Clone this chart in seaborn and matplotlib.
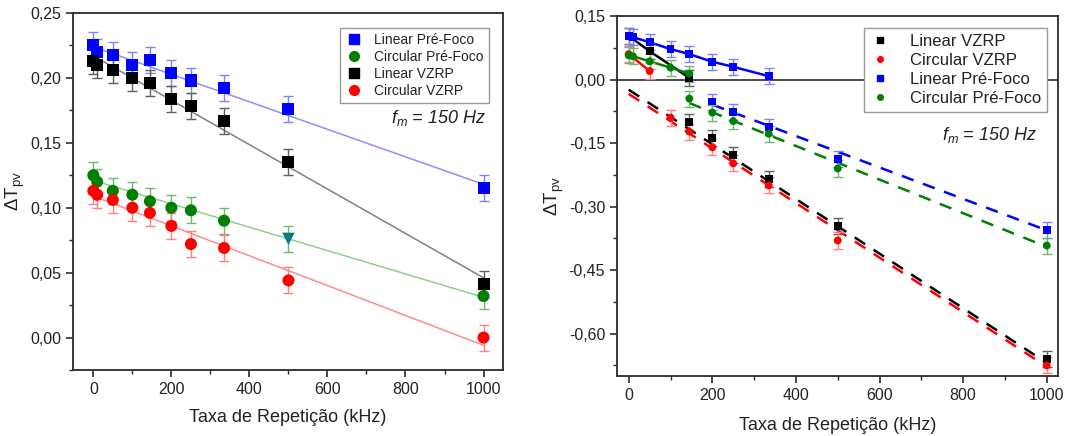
import numpy as np
import pandas as pd
import matplotlib
matplotlib.use("Agg")
import matplotlib.pyplot as plt
from matplotlib.lines import Line2D
from matplotlib.ticker import MultipleLocator, FuncFormatter
import seaborn as sns

# ---------------- data: left panel ----------------
L_x = [0, 10, 50, 100, 145, 200, 250, 335, 500, 1000]
L_lin_pre = [0.225, 0.220, 0.218, 0.210, 0.214, 0.204, 0.198, 0.192, 0.176, 0.115]
L_lin_vzrp = [0.213, 0.210, 0.206, 0.200, 0.196, 0.184, 0.178, 0.167, 0.135, 0.041]
L_circ_pre = [0.125, 0.120, 0.113, 0.110, 0.105, 0.100, 0.098, 0.090, 0.076, 0.032]
L_circ_vzrp = [0.113, 0.110, 0.106, 0.100, 0.096, 0.086, 0.072, 0.069, 0.044, 0.000]
L_err = 0.010
# fitted lines (intercept, slope)
L_fit_lin_pre = (0.224, -0.000106)
L_fit_lin_vzrp = (0.217, -0.000171)
L_fit_circ_pre = (0.121, -0.000090)
L_fit_circ_vzrp = (0.109, -0.000115)

# ---------------- data: right panel ----------------
R_lin_vzrp_pos_x = [0, 50, 145]
R_lin_vzrp_pos = [0.103, 0.067, 0.004]
R_lin_vzrp_neg_x = [145, 200, 250, 335, 500, 1000]
R_lin_vzrp_neg = [-0.100, -0.138, -0.178, -0.235, -0.345, -0.660]

R_circ_vzrp_pos_x = [0, 50]
R_circ_vzrp_pos = [0.060, 0.020]
R_circ_vzrp_neg_x = [100, 145, 200, 250, 335, 500, 1000]
R_circ_vzrp_neg = [-0.090, -0.123, -0.160, -0.198, -0.250, -0.380, -0.675]

R_lin_pre_pos_x = [0, 10, 50, 100, 145, 200, 250, 335]
R_lin_pre_pos = [0.102, 0.100, 0.088, 0.072, 0.060, 0.042, 0.030, 0.008]
R_lin_pre_neg_x = [200, 250, 335, 500, 1000]
R_lin_pre_neg = [-0.052, -0.076, -0.112, -0.187, -0.355]

R_circ_pre_pos_x = [0, 10, 50, 100, 145]
R_circ_pre_pos = [0.057, 0.055, 0.043, 0.028, 0.014]
R_circ_pre_neg_x = [145, 200, 250, 335, 500, 1000]
R_circ_pre_neg = [-0.045, -0.078, -0.098, -0.128, -0.210, -0.392]
R_err = 0.019
# dashed fits (intercept, slope, x start, x end)
R_fit_lin_vzrp = (-0.024, -0.000645, 0, 1000)
R_fit_circ_vzrp = (-0.034, -0.000644, 0, 1000)
R_fit_lin_pre = (0.015, -0.000371, 200, 1000)
R_fit_circ_pre = (0.002, -0.000397, 145, 1000)

# ---------------- style ----------------
sns.set_theme(style="ticks")
plt.rcParams['font.family'] = ['Liberation Sans', 'DejaVu Sans']
plt.rcParams['mathtext.fontset'] = 'custom'
plt.rcParams['mathtext.rm'] = 'Liberation Sans'
plt.rcParams['mathtext.it'] = 'Liberation Sans:italic'

BLUE, GREEN, BLACK, RED = '#0000ff', '#008000', '#000000', '#ff0000'
EB = {BLUE: '#8080ff', GREEN: '#70b870', BLACK: '#606060', RED: '#ff8080'}
FIT = {BLUE: '#8c8cff', GREEN: '#8fd08f', BLACK: '#808080', RED: '#ff8c8c'}

fig = plt.figure(figsize=(10.66, 4.36), dpi=100)
axL = fig.add_axes([0.0685, 0.1514, 0.4034, 0.8188])
axR = fig.add_axes([0.5788, 0.1376, 0.4137, 0.8257])

comma = FuncFormatter(lambda v, p: f"{v:.2f}".replace('.', ','))


def style_axes(ax):
    for s in ax.spines.values():
        s.set_linewidth(1.3)
        s.set_color('#2a2a2a')
    ax.tick_params(which='both', direction='out', top=False, right=False,
                   colors='#2a2a2a', labelsize=11.5, labelcolor='#222222')
    ax.tick_params(which='major', length=5, width=1.2)
    ax.tick_params(which='minor', length=3, width=1.0)
    ax.yaxis.set_major_formatter(comma)
    ax.set_xlabel('Taxa de Repetição (kHz)', fontsize=13, color='#222222')
    ax.set_ylabel(r'ΔT$_\mathregular{pv}$', fontsize=13.5, color='#222222')


# ---------------- left panel ----------------
xs = np.array([0, 1000])
series_L = [
    ('Linear Pré-Foco', L_lin_pre, BLUE, 's', L_fit_lin_pre),
    ('Linear VZRP', L_lin_vzrp, BLACK, 's', L_fit_lin_vzrp),
    ('Circular Pré-Foco', L_circ_pre, GREEN, 'o', L_fit_circ_pre),
    ('Circular VZRP', L_circ_vzrp, RED, 'o', L_fit_circ_vzrp),
]
for name, vals, col, mk, (b, m) in series_L:
    axL.plot(xs, b + m * xs, color=FIT[col], lw=1.1, zorder=2)
for name, vals, col, mk, fit in series_L:
    axL.errorbar(L_x, vals, yerr=L_err, fmt='none', ecolor=EB[col],
                 elinewidth=1.0, capsize=3.5, capthick=1.0, zorder=3)
    df = pd.DataFrame({'x': L_x, 'y': vals})
    if name == 'Circular Pré-Foco':
        normal = df[df.x != 500]
        special = df[df.x == 500]
        sns.scatterplot(data=normal, x='x', y='y', ax=axL, color=col, marker=mk,
                        s=75, edgecolor='none', zorder=4, legend=False)
        sns.scatterplot(data=special, x='x', y='y', ax=axL, color='#008080',
                        marker='v', s=80, edgecolor='none', zorder=4, legend=False)
    else:
        sns.scatterplot(data=df, x='x', y='y', ax=axL, color=col, marker=mk,
                        s=75, edgecolor='none', zorder=4, legend=False)

axL.set_xlim(-52, 1050)
axL.set_ylim(-0.025, 0.25)
axL.xaxis.set_major_locator(MultipleLocator(200))
axL.xaxis.set_minor_locator(MultipleLocator(100))
axL.yaxis.set_major_locator(MultipleLocator(0.05))
axL.yaxis.set_minor_locator(MultipleLocator(0.025))
style_axes(axL)
axL.yaxis.set_label_coords(-0.107, 0.5)
axL.xaxis.set_label_coords(0.5, -0.108)

handlesL = [Line2D([], [], ls='none', marker='s', color=BLUE, ms=7),
            Line2D([], [], ls='none', marker='o', color=GREEN, ms=7),
            Line2D([], [], ls='none', marker='s', color=BLACK, ms=7),
            Line2D([], [], ls='none', marker='o', color=RED, ms=7)]
legL = axL.legend(handlesL, ['Linear Pré-Foco', 'Circular Pré-Foco', 'Linear VZRP', 'Circular VZRP'],
                  loc='upper right', bbox_to_anchor=(0.967, 0.958), borderaxespad=0,
                  fontsize=10, frameon=True, fancybox=False, framealpha=1,
                  edgecolor='#999999', labelspacing=0.22, handletextpad=0.9,
                  handlelength=1.2, borderpad=0.35)
legL.get_frame().set_linewidth(1.0)
for t in legL.get_texts():
    t.set_color('#222222')
axL.text(1008, 0.169, r'$\mathit{f_m}$ = 150 Hz', ha='right', va='center',
         fontsize=13, style='italic', color='#222222')

# ---------------- right panel ----------------
axR.axhline(0, color='#2a2a2a', lw=1.2, zorder=1)
series_R = [
    ('Linear VZRP', BLACK, 's', R_lin_vzrp_pos_x, R_lin_vzrp_pos, R_lin_vzrp_neg_x, R_lin_vzrp_neg, R_fit_lin_vzrp),
    ('Circular VZRP', RED, 'o', R_circ_vzrp_pos_x, R_circ_vzrp_pos, R_circ_vzrp_neg_x, R_circ_vzrp_neg, R_fit_circ_vzrp),
    ('Linear Pré-Foco', BLUE, 's', R_lin_pre_pos_x, R_lin_pre_pos, R_lin_pre_neg_x, R_lin_pre_neg, R_fit_lin_pre),
    ('Circular Pré-Foco', GREEN, 'o', R_circ_pre_pos_x, R_circ_pre_pos, R_circ_pre_neg_x, R_circ_pre_neg, R_fit_circ_pre),
]
for name, col, mk, px, py, nx, ny, (b, m, x0, x1) in series_R:
    fx = np.array([x0, x1])
    axR.plot(fx, b + m * fx, color=col, lw=1.8, ls=(0, (5, 4)), zorder=2)
    sns.lineplot(x=px, y=py, ax=axR, color=col, lw=1.8, zorder=2, legend=False)
for name, col, mk, px, py, nx, ny, fit in series_R:
    allx = list(px) + list(nx)
    ally = list(py) + list(ny)
    axR.errorbar(allx, ally, yerr=R_err, fmt='none', ecolor=EB[col],
                 elinewidth=1.0, capsize=3.5, capthick=1.0, zorder=3)
    df = pd.DataFrame({'x': allx, 'y': ally})
    sns.scatterplot(data=df, x='x', y='y', ax=axR, color=col, marker=mk,
                    s=32, edgecolor='none', zorder=4, legend=False)

axR.set_xlim(-28, 1027)
axR.set_ylim(-0.70, 0.15)
axR.xaxis.set_major_locator(MultipleLocator(200))
axR.xaxis.set_minor_locator(MultipleLocator(100))
axR.yaxis.set_major_locator(MultipleLocator(0.15))
axR.yaxis.set_minor_locator(MultipleLocator(0.075))
style_axes(axR)
axR.yaxis.set_label_coords(-0.116, 0.5)
axR.xaxis.set_label_coords(0.5, -0.113)

handlesR = [Line2D([], [], ls='none', marker='s', color=BLACK, ms=4),
            Line2D([], [], ls='none', marker='o', color=RED, ms=4),
            Line2D([], [], ls='none', marker='s', color=BLUE, ms=4),
            Line2D([], [], ls='none', marker='o', color=GREEN, ms=4)]
legR = axR.legend(handlesR, ['Linear VZRP', 'Circular VZRP', 'Linear Pré-Foco', 'Circular Pré-Foco'],
                  loc='upper right', bbox_to_anchor=(0.975, 0.967), borderaxespad=0,
                  fontsize=12, frameon=True, fancybox=False, framealpha=1,
                  edgecolor='#999999', labelspacing=0.25, handletextpad=1.2,
                  handlelength=1.2, borderpad=0.35)
legR.get_frame().set_linewidth(1.0)
for t in legR.get_texts():
    t.set_color('#222222')
axR.text(977, -0.131, r'$\mathit{f_m}$ = 150 Hz', ha='right', va='center',
         fontsize=13, style='italic', color='#222222')

fig.savefig('out.png', dpi=100)
